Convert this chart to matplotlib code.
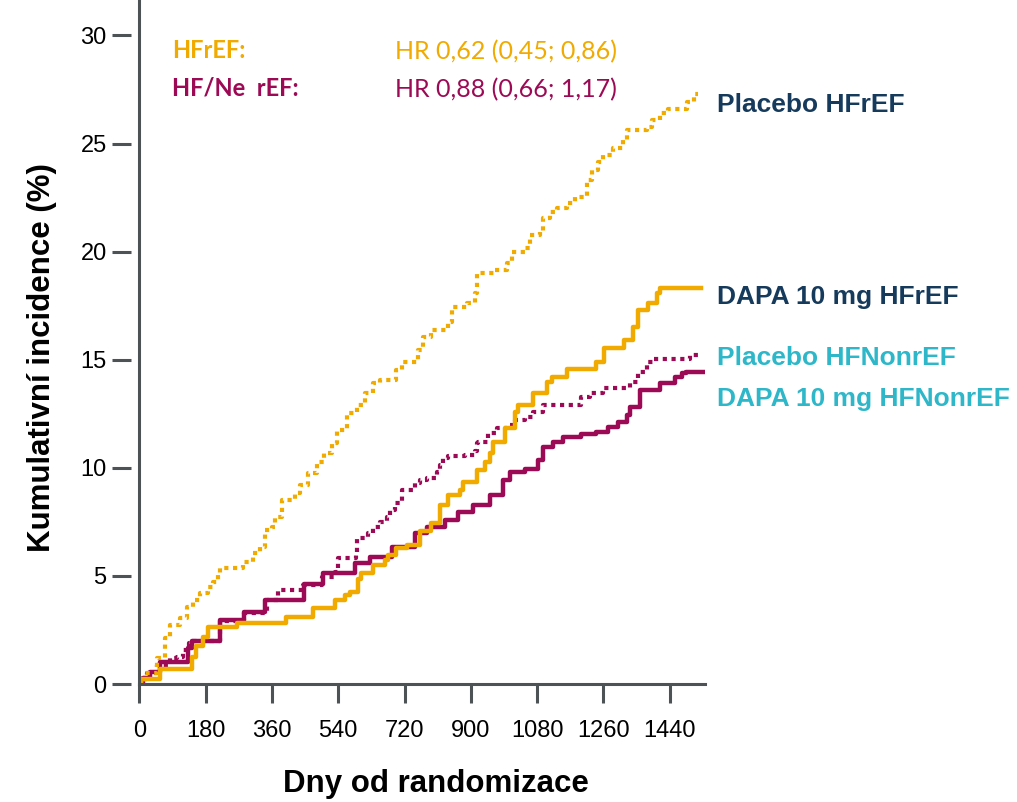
import matplotlib.pyplot as plt

plt.rcParams['font.family'] = ['Liberation Sans', 'DejaVu Sans']

# kumulativní incidence (%) – skokové funkce (den události, hodnota po události)
placebo_hfref_days = [0, 15, 47, 70, 83, 110, 129, 147, 165, 187, 201, 214, 219, 282, 309, 328,
                      341, 359, 368, 386, 423, 436, 459, 481, 500, 522, 536, 563, 590, 612, 635,
                      653, 698, 712, 757, 771, 793, 839, 848, 889, 911, 916, 965, 997, 1011, 1047,
                      1060, 1087, 1096, 1115, 1133, 1160, 1182, 1214, 1228, 1246, 1259, 1286, 1313,
                      1323, 1377, 1391, 1413, 1436, 1486, 1505]
placebo_hfref_vals = [0, 0.49, 1.19, 2.11, 2.73, 3.04, 3.58, 3.89, 4.20, 4.50, 4.73, 5.12, 5.35,
                      5.66, 6.04, 6.35, 7.12, 7.28, 7.74, 8.51, 8.82, 9.20, 9.75, 10.28, 10.67,
                      11.13, 11.75, 12.52, 12.90, 13.44, 13.91, 14.06, 14.52, 14.91, 15.45, 16.06,
                      16.37, 16.76, 17.45, 17.61, 18.07, 19.00, 19.15, 19.46, 20.00, 20.15, 20.77,
                      20.92, 21.54, 21.85, 22.00, 22.23, 22.54, 23.31, 23.77, 24.16, 24.47, 24.78,
                      25.16, 25.62, 25.78, 26.09, 26.40, 26.58, 26.93, 27.29]

dapa_hfref_days = [0, 4, 56, 142, 155, 174, 187, 264, 398, 472, 531, 558, 572, 594, 603, 635, 667,
                   676, 698, 726, 762, 793, 816, 839, 870, 879, 916, 938, 952, 961, 992, 1020,
                   1028, 1069, 1106, 1119, 1160, 1241, 1261, 1315, 1341, 1354, 1381, 1404, 1413]
dapa_hfref_vals = [0, 0.23, 0.68, 1.26, 1.76, 2.19, 2.62, 2.81, 3.11, 3.50, 3.89, 4.12, 4.27,
                   4.85, 5.15, 5.50, 5.74, 5.97, 6.28, 6.43, 7.10, 7.43, 8.28, 8.74, 8.97, 9.36,
                   9.90, 10.28, 10.67, 11.21, 11.83, 12.60, 12.90, 13.44, 13.98, 14.21, 14.56,
                   14.91, 15.53, 15.91, 16.53, 17.30, 17.61, 18.07, 18.30]

placebo_hfnonref_days = [0, 10, 20, 47, 83, 101, 119, 135, 142, 219, 283, 346, 377, 445, 495, 530,
                         540, 588, 592, 622, 635, 653, 671, 680, 694, 712, 748, 762, 780, 807, 816,
                         825, 839, 884, 911, 916, 920, 947, 970, 997, 1020, 1047, 1069, 1096, 1200,
                         1223, 1259, 1332, 1354, 1377, 1395, 1494]
placebo_hfnonref_vals = [0, 0.30, 0.49, 0.88, 1.19, 1.26, 1.57, 1.88, 2.00, 2.90, 3.30, 3.90, 4.35,
                         4.58, 4.96, 5.20, 5.81, 6.04, 6.74, 6.97, 7.28, 7.51, 7.74, 8.05, 8.39,
                         8.97, 9.28, 9.44, 9.51, 9.82, 10.13, 10.44, 10.55, 10.59, 10.78, 11.13,
                         11.21, 11.60, 11.83, 11.98, 12.21, 12.36, 12.60, 12.90, 13.26, 13.44,
                         13.68, 13.98, 14.44, 14.91, 15.02, 15.22]

dapa_hfnonref_days = [0, 10, 29, 56, 133, 142, 219, 283, 341, 447, 499, 585, 626, 685, 748, 780,
                      830, 866, 906, 952, 988, 1006, 1047, 1083, 1096, 1123, 1151, 1200, 1241,
                      1273, 1300, 1323, 1332, 1359, 1413, 1454, 1472, 1485]
dapa_hfnonref_vals = [0, 0.30, 0.55, 1.03, 1.65, 2.00, 2.96, 3.35, 3.89, 4.62, 5.12, 5.62, 5.89,
                      6.35, 6.97, 7.28, 7.59, 7.97, 8.28, 8.74, 9.44, 9.82, 9.93, 10.36, 10.98,
                      11.21, 11.44, 11.56, 11.67, 11.90, 12.13, 12.44, 12.83, 13.60, 13.91, 14.21,
                      14.37, 14.44]

# poslední den sledování každé skupiny
end_days = {'placebo_hfref': 1517, 'dapa_hfref': 1526,
            'placebo_hfnonref': 1526, 'dapa_hfnonref': 1531}

x_ticks = [0, 180, 360, 540, 720, 900, 1080, 1260, 1440]
y_ticks = [0, 5, 10, 15, 20, 25, 30]

ORANGE = '#F0AA00'
PURPLE = '#9C0A56'
NAVY = '#153A5C'
TEAL = '#2DB7C9'
AXIS = '#4D5254'

fig = plt.figure(figsize=(10.17, 8.02), dpi=100)
ax = fig.add_axes([0.137, 0.1471, 0.556, 0.8529])


def draw_step(days, vals, end, **kw):
    ax.step(days + [end], vals + [vals[-1]], where='post', **kw)


dot = dict(lw=3.0, linestyle=(0, (1, 1.1)), dash_capstyle='butt')
draw_step(placebo_hfnonref_days, placebo_hfnonref_vals, end_days['placebo_hfnonref'],
          color=PURPLE, **dot)
draw_step(dapa_hfnonref_days, dapa_hfnonref_vals, end_days['dapa_hfnonref'],
          color=PURPLE, lw=3.2)
draw_step(placebo_hfref_days, placebo_hfref_vals, end_days['placebo_hfref'],
          color=ORANGE, **dot)
draw_step(dapa_hfref_days, dapa_hfref_vals, end_days['dapa_hfref'],
          color=ORANGE, lw=3.2)

ax.set_xlim(0, 1535)
ax.set_ylim(0, 31.64)
ax.set_xticks(x_ticks)
ax.set_yticks(y_ticks)

for side in ['top', 'right']:
    ax.spines[side].set_visible(False)
ax.spines['bottom'].set_color(AXIS)
ax.spines['bottom'].set_linewidth(2.2)
# osa y: značky odsazené od čáry osy
ax.spines['left'].set_position(('outward', 6))
ax.spines['left'].set_visible(False)
ax.axvline(0, color=AXIS, lw=2.2, clip_on=False, zorder=5)

ax.tick_params(axis='x', direction='out', length=13.7, width=2.2, color=AXIS,
               labelsize=17, pad=12)
ax.tick_params(axis='y', direction='out', length=13.5, width=2.2, color=AXIS,
               labelsize=17, pad=4)

ax.set_xlabel('Dny od randomizace', fontsize=22.5, fontweight='bold')
ax.set_ylabel('Kumulativní incidence (%)', fontsize=22.5, fontweight='bold')
ax.xaxis.set_label_coords(0.525, -0.124)
ax.yaxis.set_label_coords(-0.145, 0.477)

# HR v levém horním rohu
hr_font = ['Lato', 'DejaVu Sans']
ax.text(89, 29.3, 'HFrEF:', color=ORANGE, fontsize=17, fontweight='bold',
        family=hr_font, va='center')
ax.text(89, 27.55, 'HF/Ne  rEF:', color=PURPLE, fontsize=17, fontweight='bold',
        family=hr_font, va='center')
ax.text(694, 29.25, 'HR 0,62 (0,45; 0,86)', color=ORANGE, fontsize=18,
        family=hr_font, va='center')
ax.text(694, 27.5, 'HR 0,88 (0,66; 1,17)', color=PURPLE, fontsize=18,
        family=hr_font, va='center')

# popisky skupin vpravo
labels = [('Placebo HFrEF', 26.8, NAVY),
          ('DAPA 10 mg HFrEF', 17.9, NAVY),
          ('Placebo HFNonrEF', 15.1, TEAL),
          ('DAPA 10 mg HFNonrEF', 13.2, TEAL)]
for text, y, c in labels:
    ax.text(1568, y, text, color=c, fontsize=19, fontweight='bold', va='center',
            clip_on=False)

fig.savefig('out.png', dpi=100)
